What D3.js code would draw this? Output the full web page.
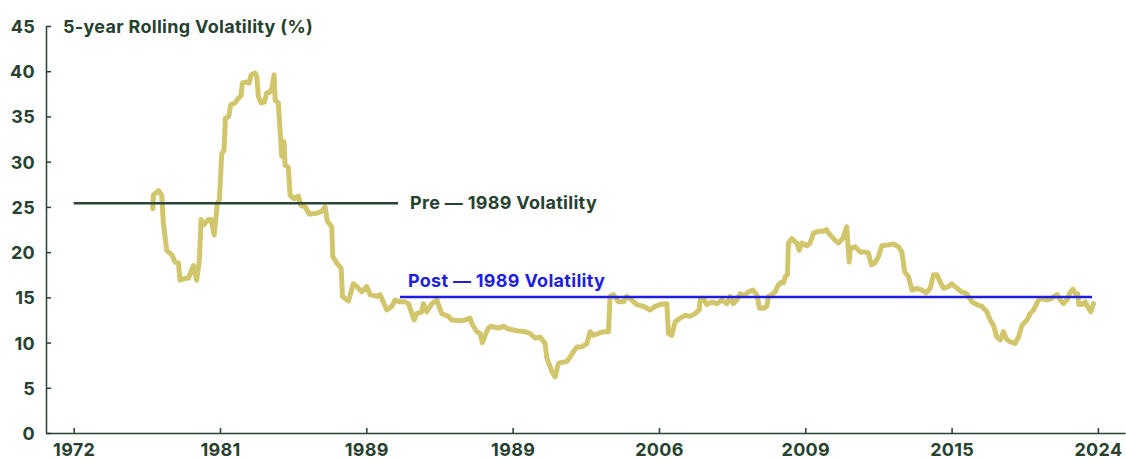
<!DOCTYPE html>
<html>
  <head>
    <meta charset='utf-8'>
    <title></title>
    <script src='https://d3js.org/d3.v7.min.js'></script>
    <style>
      body { margin: 0; background: #fff; }
      svg { display: block; }
      .axis text {
        font-family: Inter, 'Noto Sans', sans-serif;
        font-weight: 700;
        font-size: 18px;
        letter-spacing: 0.3px;
        fill: #27412f;
      }
      .axis path, .axis line {
        stroke: #27412f;
        stroke-width: 1.5px;
      }
      .vol {
        fill: none;
        stroke: #d1c66b;
        stroke-width: 5px;
        stroke-linejoin: round;
        stroke-linecap: round;
      }
      .lbl {
        font-family: Inter, 'Noto Sans', sans-serif;
        font-weight: 700;
        font-size: 18px;
        letter-spacing: 0.3px;
      }
    </style>
  </head>
  <body>
  <script type='text/javascript'>

    var width = 1126;
    var height = 459;

    // tick labels (evenly spaced on the axis, as in the source)
    var xLabels = ['1972', '1981', '1989', '1989', '2006', '2009', '2015', '2024'];
    var yTicks = [0, 5, 10, 15, 20, 25, 30, 35, 40, 45];

    // position along axis (in tick units) and 5-year rolling volatility (%)
    var pos = [0.541, 0.545, 0.579, 0.602, 0.613, 0.636, 0.671, 0.693, 0.716, 0.727, 0.761, 0.784, 0.818, 0.841, 0.859,
      0.871, 0.887, 0.921, 0.939, 0.960, 0.982, 0.996, 1.012, 1.028, 1.037, 1.060, 1.074, 1.103, 1.126, 1.144, 1.153,
      1.178, 1.199, 1.213, 1.240, 1.252, 1.262, 1.281, 1.303, 1.320, 1.342, 1.354, 1.370, 1.377, 1.399, 1.422, 1.438,
      1.445, 1.467, 1.479, 1.506, 1.536, 1.552, 1.582, 1.611, 1.662, 1.696, 1.718, 1.734, 1.764, 1.771, 1.798, 1.828,
      1.837, 1.878, 1.912, 1.935, 1.969, 2.003, 2.026, 2.072, 2.094, 2.140, 2.174, 2.197, 2.231, 2.265, 2.288, 2.327,
      2.345, 2.379, 2.390, 2.413, 2.448, 2.482, 2.516, 2.561, 2.584, 2.641, 2.675, 2.709, 2.721, 2.755, 2.778, 2.793,
      2.812, 2.834, 2.851, 2.903, 2.937, 2.971, 3.029, 3.085, 3.120, 3.154, 3.188, 3.222, 3.234, 3.268, 3.290, 3.313,
      3.336, 3.370, 3.393, 3.416, 3.439, 3.473, 3.507, 3.530, 3.552, 3.586, 3.621, 3.655, 3.666, 3.689, 3.723, 3.757,
      3.780, 3.815, 3.849, 3.894, 3.940, 3.974, 4.008, 4.054, 4.065, 4.088, 4.111, 4.145, 4.179, 4.213, 4.247, 4.275,
      4.281, 4.304, 4.327, 4.362, 4.396, 4.430, 4.464, 4.487, 4.509, 4.532, 4.555, 4.578, 4.612, 4.642, 4.669, 4.687,
      4.714, 4.737, 4.748, 4.772, 4.794, 4.817, 4.840, 4.851, 4.864, 4.878, 4.885, 4.908, 4.942, 4.958, 4.977, 5.011,
      5.033, 5.056, 5.090, 5.124, 5.143, 5.170, 5.204, 5.227, 5.257, 5.283, 5.300, 5.307, 5.341, 5.375, 5.409, 5.432,
      5.452, 5.475, 5.500, 5.523, 5.569, 5.603, 5.637, 5.660, 5.680, 5.705, 5.729, 5.763, 5.797, 5.826, 5.854, 5.876,
      5.900, 5.922, 5.945, 5.979, 6.002, 6.036, 6.070, 6.104, 6.139, 6.173, 6.207, 6.241, 6.264, 6.286, 6.309, 6.333,
      6.354, 6.378, 6.400, 6.434, 6.457, 6.481, 6.515, 6.537, 6.560, 6.587, 6.606, 6.651, 6.686, 6.720, 6.743, 6.765,
      6.788, 6.811, 6.829, 6.846, 6.862, 6.870, 6.890, 6.913, 6.935, 6.952, 6.970];
    var vol = [24.8, 26.3, 26.8, 26.3, 23.2, 20.2, 19.7, 18.9, 18.8, 16.9, 17.1, 17.1, 18.5, 16.9, 19.1,
      23.6, 23.0, 23.6, 23.6, 21.9, 25.4, 25.8, 30.9, 31.3, 34.8, 35.0, 36.3, 36.5, 37.0, 37.3, 38.7,
      38.8, 38.7, 39.6, 39.8, 39.4, 37.2, 36.5, 36.6, 37.6, 37.7, 38.1, 39.6, 36.8, 36.5, 30.6, 32.2,
      29.6, 29.4, 26.3, 25.9, 26.2, 25.2, 25.0, 24.2, 24.3, 24.5, 25.0, 23.4, 22.8, 19.5, 18.8, 18.2,
      15.1, 14.6, 16.5, 16.2, 15.6, 16.2, 15.3, 15.1, 15.3, 13.6, 14.0, 14.7, 14.5, 14.5, 14.3, 12.5,
      13.2, 13.4, 14.3, 13.4, 14.3, 14.7, 13.2, 12.9, 12.5, 12.4, 12.5, 12.7, 12.1, 11.2, 11.0, 10.0,
      10.8, 11.6, 11.8, 11.6, 11.8, 11.5, 11.3, 11.2, 11.0, 10.5, 10.6, 9.9, 8.3, 6.8, 6.2, 7.7,
      7.8, 7.9, 8.4, 9.0, 9.5, 9.5, 9.9, 11.2, 10.8, 11.0, 11.2, 11.2, 15.1, 15.3, 14.5, 14.5,
      15.1, 14.7, 14.2, 14.0, 13.6, 14.0, 14.2, 14.3, 11.0, 10.8, 12.3, 12.7, 13.0, 12.9, 13.2, 13.6,
      14.7, 14.9, 14.2, 14.5, 14.3, 14.7, 14.3, 15.1, 14.3, 14.7, 15.4, 15.2, 15.6, 15.8, 15.3, 13.8,
      13.8, 14.0, 15.1, 15.3, 15.6, 16.4, 16.7, 16.6, 17.3, 17.5, 21.0, 21.5, 21.0, 20.2, 21.0, 20.7,
      21.0, 22.1, 22.3, 22.3, 22.5, 21.9, 21.3, 21.0, 21.5, 22.8, 18.9, 20.4, 20.6, 20.0, 20.0, 19.9,
      18.6, 18.8, 19.5, 20.7, 20.8, 20.9, 20.6, 20.0, 17.8, 17.3, 15.8, 16.0, 15.8, 15.5, 16.0, 17.5,
      17.5, 16.7, 16.0, 16.2, 16.5, 16.0, 15.6, 15.4, 14.5, 14.2, 14.0, 13.4, 12.5, 11.9, 10.6, 10.3,
      11.2, 10.3, 10.1, 9.9, 10.6, 11.9, 12.5, 13.2, 13.6, 14.5, 14.9, 14.7, 14.9, 15.3, 14.7, 14.3,
      14.7, 15.6, 15.9, 15.4, 15.4, 14.2, 14.2, 14.5, 13.8, 13.4, 14.3];

    // average lines: [start, end] in tick units and level
    var preRange = [0, 2.217];
    var preLevel = 25.4;
    var postRange = [2.23, 6.96];
    var postLevel = 15.05;

    var x = d3.scaleLinear()
              .domain([-0.189, 7.185])
              .range([46, 1125]);
    var y = d3.scaleLinear()
              .domain([0, 45])
              .range([433, 26]);

    var svg = d3.select('body')
              .append('svg')
              .attr('width', width)
              .attr('height', height);

    svg.append('g')
      .attr('class', 'axis')
      .attr('transform', 'translate(46,0)')
      .call(d3.axisLeft(y).tickValues(yTicks).tickSizeInner(-5).tickSizeOuter(0).tickPadding(11))
      .selectAll('text').attr('dy', '0.36em');

    svg.append('g')
      .attr('class', 'axis')
      .attr('transform', 'translate(0,433)')
      .call(d3.axisBottom(x).tickValues(d3.range(xLabels.length)).tickSizeInner(-5).tickSizeOuter(0)
            .tickPadding(10).tickFormat(function(d) { return xLabels[d]; }));

    svg.append('text')
      .attr('class', 'lbl')
      .attr('x', 63)
      .attr('y', 33)
      .style('fill', '#27412f')
      .text('5-year Rolling Volatility (%)');

    var points = pos.map(function(p, i) { return [p, vol[i]]; });

    var line = d3.line()
              .x(function(d) { return x(d[0]); })
              .y(function(d) { return y(d[1]); });

    svg.append('path')
      .datum(points)
      .attr('class', 'vol')
      .attr('d', line);

    svg.append('line')
      .attr('x1', x(preRange[0])).attr('x2', x(preRange[1]))
      .attr('y1', y(preLevel)).attr('y2', y(preLevel))
      .style('stroke', '#2b4636')
      .style('stroke-width', 2.5);

    svg.append('text')
      .attr('class', 'lbl')
      .attr('x', x(preRange[1]) + 12)
      .attr('y', y(preLevel) + 6)
      .style('fill', '#27412f')
      .text('Pre \u2014 1989 Volatility');

    svg.append('line')
      .attr('x1', x(postRange[0])).attr('x2', x(postRange[1]))
      .attr('y1', y(postLevel)).attr('y2', y(postLevel))
      .style('stroke', '#1e1ee3')
      .style('stroke-width', 2.5);

    svg.append('text')
      .attr('class', 'lbl')
      .attr('x', x(postRange[0]) + 8)
      .attr('y', y(postLevel) - 10)
      .style('fill', '#1e1ee3')
      .text('Post \u2014 1989 Volatility');

  </script>
  </body>
</html>
